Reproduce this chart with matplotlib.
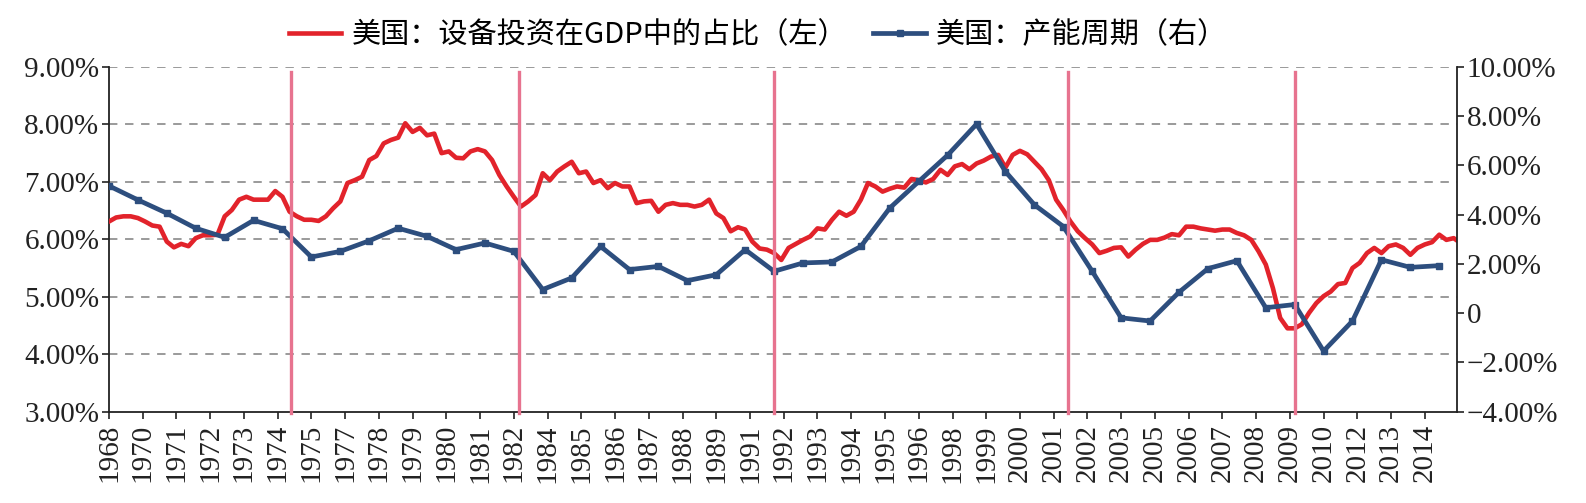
import matplotlib
matplotlib.use("Agg")
import matplotlib.pyplot as plt
import pandas as pd
from matplotlib.ticker import FuncFormatter

# ---------------- data ----------------
start = "1968-12-01"

# US equipment investment share of GDP (%), quarterly, left axis
equip_share = [
    6.31, 6.38, 6.40, 6.40, 6.37, 6.31, 6.24, 6.22, 5.96, 5.86,
    5.92, 5.88, 6.02, 6.07, 6.07, 6.08, 6.40, 6.51, 6.69, 6.74,
    6.69, 6.69, 6.69, 6.84, 6.74, 6.48, 6.40, 6.34, 6.34, 6.32,
    6.40, 6.54, 6.66, 6.98, 7.03, 7.09, 7.38, 7.45, 7.67, 7.73,
    7.77, 8.02, 7.87, 7.94, 7.81, 7.84, 7.50, 7.53, 7.42, 7.41,
    7.53, 7.57, 7.53, 7.38, 7.12, 6.92, 6.74, 6.57, 6.66, 6.77,
    7.15, 7.03, 7.18, 7.27, 7.35, 7.15, 7.18, 6.98, 7.03, 6.89,
    6.98, 6.92, 6.92, 6.63, 6.66, 6.67, 6.48, 6.60, 6.63, 6.60,
    6.60, 6.57, 6.60, 6.69, 6.45, 6.37, 6.14, 6.21, 6.17, 5.96,
    5.84, 5.82, 5.76, 5.64, 5.85, 5.92, 5.99, 6.05, 6.19, 6.17,
    6.34, 6.48, 6.41, 6.48, 6.69, 6.98, 6.92, 6.83, 6.88, 6.92,
    6.90, 7.05, 7.03, 6.99, 7.05, 7.21, 7.12, 7.27, 7.31, 7.22,
    7.32, 7.37, 7.44, 7.47, 7.25, 7.47, 7.54, 7.48, 7.35, 7.22,
    7.03, 6.69, 6.51, 6.31, 6.14, 6.02, 5.91, 5.76, 5.80, 5.85,
    5.86, 5.70, 5.82, 5.92, 5.99, 5.99, 6.03, 6.09, 6.07, 6.22,
    6.22, 6.19, 6.17, 6.15, 6.17, 6.17, 6.11, 6.07, 5.99, 5.79,
    5.56, 5.15, 4.63, 4.45, 4.45, 4.52, 4.72, 4.89, 5.01, 5.09,
    5.22, 5.24, 5.50, 5.59, 5.76, 5.85, 5.76, 5.88, 5.91, 5.85,
    5.73, 5.85, 5.91, 5.95, 6.08, 5.99, 6.02, 5.93,
]

# US capacity cycle (%), annual, right axis
capacity_cycle = [
    5.17, 4.60, 4.06, 3.45, 3.08, 3.77, 3.43, 2.28, 2.51, 2.94,
    3.45, 3.12, 2.58, 2.85, 2.51, 0.96, 1.43, 2.71, 1.77, 1.90,
    1.32, 1.56, 2.58, 1.70, 2.04, 2.08, 2.71, 4.27, 5.35, 6.42,
    7.68, 5.75, 4.40, 3.52, 1.70, -0.19, -0.32, 0.85, 1.81, 2.13,
    0.22, 0.35, -1.54, -0.32, 2.17, 1.86, 1.93,
]

tick_labels = [
    "1968", "1970", "1971", "1972", "1973", "1974", "1975", "1977", "1978", "1979",
    "1980", "1981", "1982", "1984", "1985", "1986", "1987", "1988", "1989", "1991",
    "1992", "1993", "1994", "1995", "1996", "1998", "1999", "2000", "2001", "2002",
    "2003", "2005", "2006", "2007", "2008", "2009", "2010", "2012", "2013", "2014",
]

marker_lines = ["1975-03-15", "1983-02-01", "1991-12-01", "2002-02-01", "2009-12-01"]

legend_red = "美国：设备投资在GDP中的占比（左）"
legend_blue = "美国：产能周期（右）"

# ---------------- derived dates ----------------
red_dates = pd.date_range(start, periods=len(equip_share), freq="3MS")
blue_dates = pd.date_range(start, periods=len(capacity_cycle), freq="12MS")
tick_dates = pd.date_range(start, periods=len(tick_labels), freq="14MS")
vline_dates = pd.to_datetime(marker_lines)

# ---------------- style ----------------
RED = "#E2232B"
BLUE = "#2D4E7E"
PINK = "#E7738F"
SERIF = ["Liberation Serif", "DejaVu Serif"]
CJK = ["Noto Sans CJK SC", "DejaVu Sans"]

fig = plt.figure(figsize=(15.86, 5.03), dpi=100)
ax = fig.add_axes([109 / 1586, 1 - 411.6 / 503, (1457 - 109) / 1586, (411.6 - 67) / 503])
ax2 = ax.twinx()

ax.plot(red_dates, equip_share, color=RED, lw=3.3, solid_joinstyle="round", zorder=3,
        label=legend_red)
ax2.plot(blue_dates, capacity_cycle, color=BLUE, lw=3.4, marker="s", markersize=4.5,
         markeredgecolor=BLUE, zorder=3, label=legend_blue)

for d in vline_dates:
    ax2.axvline(d, ymin=-0.005, ymax=0.985, color=PINK, lw=2.4, zorder=5, clip_on=False)

ax.set_xlim(pd.Timestamp(start), pd.Timestamp("2015-07-13"))
ax.set_ylim(3, 9)
ax2.set_ylim(-4, 10)
ax.set_yticks([3, 4, 5, 6, 7, 8, 9])
ax2.set_yticks([-4, -2, 0, 2, 4, 6, 8, 10])

ax.yaxis.set_major_formatter(FuncFormatter(lambda v, p: f"{v:.2f}%"))


def right_fmt(v, p):
    if abs(v) < 1e-9:
        return "0"
    s = f"{abs(v):.2f}%"
    return ("\u2212" + s) if v < 0 else s


ax2.yaxis.set_major_formatter(FuncFormatter(right_fmt))

ax.set_xticks(tick_dates)
ax.set_xticklabels(tick_labels, rotation=90)

# grid
for yv in [4, 5, 6, 7, 8, 9]:
    ax.axhline(yv, color="#7f7f7f", lw=1.1, dashes=(5.5, 5.0), zorder=1)

for a in (ax, ax2):
    a.spines["top"].set_visible(False)
    for s in ("left", "right", "bottom"):
        a.spines[s].set_color("#222222")
        a.spines[s].set_linewidth(1.3)
    a.tick_params(axis="both", direction="out", length=5, width=1.2, colors="#222222",
                  labelcolor="#222222")

ax.spines["right"].set_visible(False)
ax2.spines["left"].set_visible(False)
ax2.spines["bottom"].set_visible(False)

for lab in ax.get_yticklabels() + ax2.get_yticklabels() + ax.get_xticklabels():
    lab.set_family(SERIF)
    lab.set_fontsize(21)

ax.tick_params(axis="y", pad=2)
ax2.tick_params(axis="y", pad=2)
ax.tick_params(axis="x", pad=4)

# legend
h1, l1 = ax.get_legend_handles_labels()
h2, l2 = ax2.get_legend_handles_labels()
leg = fig.legend(h1 + h2, l1 + l2, loc="upper center", bbox_to_anchor=(0.478, 1.012),
                 ncol=2, frameon=False, handlelength=1.8, handletextpad=0.35,
                 columnspacing=0.9, prop={"family": CJK, "size": 21})

fig.savefig("out.png", dpi=100)
